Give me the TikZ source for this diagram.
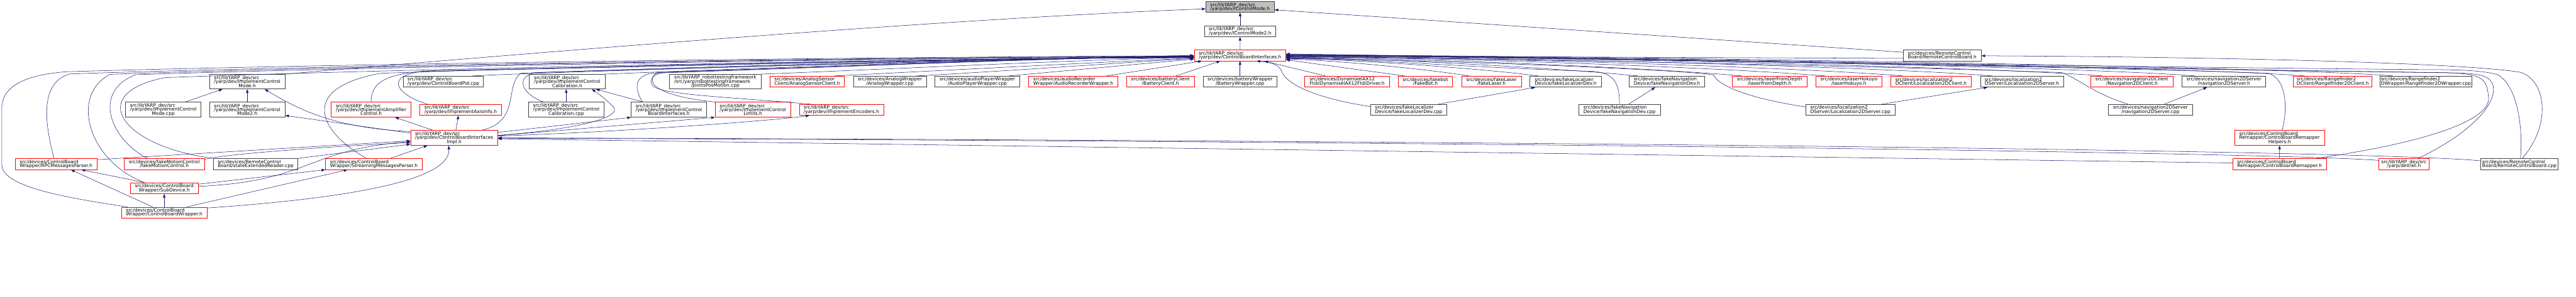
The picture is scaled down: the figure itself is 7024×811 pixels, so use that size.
\documentclass[tikz,border=0pt]{standalone}
\usepackage{fontspec}
\usetikzlibrary{arrows.meta}
\newfontfamily\doxfont{DejaVu Sans}
\newcommand{\doxsize}{\doxfont\fontsize{12.8pt}{11pt}\selectfont}
% label lines: the upper ones flush left, the last one centred
\newcommand{\twol}[2]{\vbox{\lineskiplimit=-\maxdimen\halign{##\hfil\cr#1\cr\omit\hfil#2\hfil\cr}}}
\newcommand{\threel}[3]{\vbox{\lineskiplimit=-\maxdimen\halign{##\hfil\cr#1\cr#2\cr\omit\hfil#3\hfil\cr}}}
\definecolor{edgeblue}{RGB}{25,25,112}
\definecolor{rootgray}{RGB}{191,191,191}
\definecolor{filegray}{RGB}{64,64,64}
\tikzset{
  file/.style={draw=filegray, line width=1.2pt, fill=white, inner sep=0pt,
               font=\doxsize},
  filered/.style={file, draw=red},
  fileroot/.style={file, fill=rootgray},
  dep/.style={draw=edgeblue, line width=0.9pt,
              -{Triangle[length=10pt,width=7pt]}},
}

\begin{document}
\begin{tikzpicture}[x=1pt,y=-1pt]
  \path[use as bounding box] (0,0) rectangle (7024,811);

  % the header and its two direct includers
  \node[fileroot, minimum width=187pt, minimum height=29pt] (icm) at (3381.3,19.2)
    {\twol{src/libYARP\_dev/src}{/yarp/dev/IControlMode.h}};
  \node[file, minimum width=195pt, minimum height=29.5pt] (icm2) at (3381.3,85.5)
    {\twol{src/libYARP\_dev/src}{/yarp/dev/IControlMode2.h}};
  \node[filered, minimum width=250pt, minimum height=29.5pt] (cbi) at (3381.2,151.4)
    {\twol{src/libYARP\_dev/src}{/yarp/dev/ControlBoardInterfaces.h}};
  \node[file, minimum width=212pt, minimum height=29.5pt] (rcbh) at (5295.9,151.4)
    {\twol{src/devices/RemoteControl}{Board/RemoteControlBoard.h}};

  % third row
  \node[file, minimum width=206pt, minimum height=40pt] (icmh) at (674.3,223)
    {\threel{src/libYARP\_dev/src}{/yarp/dev/ImplementControl}{Mode.h}};
  \node[file, minimum width=219pt, minimum height=30pt] (cbpid) at (1208.9,223)
    {\twol{src/libYARP\_dev/src}{/yarp/dev/ControlBoardPid.cpp}};
  \node[file, minimum width=206pt, minimum height=40pt] (iccalh) at (1546.6,223)
    {\threel{src/libYARP\_dev/src}{/yarp/dev/ImplementControl}{Calibration.h}};
  \node[file, minimum width=251pt, minimum height=40pt] (jpm) at (1950.5,223)
    {\threel{src/libYARP\_robottestingframework}{/src/yarp/robottestingframework}{/JointsPosMotion.cpp}};
  \node[filered, minimum width=203pt, minimum height=30pt] (asc) at (2201,223)
    {\twol{src/devices/AnalogSensor}{Client/AnalogSensorClient.h}};
  \node[file, minimum width=199pt, minimum height=30pt] (awr) at (2426.6,223)
    {\twol{src/devices/AnalogWrapper}{/AnalogWrapper.cpp}};
  \node[file, minimum width=232pt, minimum height=30pt] (apw) at (2665,223)
    {\twol{src/devices/audioPlayerWrapper}{/AudioPlayerWrapper.cpp}};
  \node[filered, minimum width=243pt, minimum height=30pt] (arw) at (2926.5,223)
    {\twol{src/devices/audioRecorder}{Wrapper/AudioRecorderWrapper.h}};
  \node[filered, minimum width=184.5pt, minimum height=30pt] (bcl) at (3164,223)
    {\twol{src/devices/batteryClient}{/BatteryClient.h}};
  \node[file, minimum width=202pt, minimum height=30pt] (bwr) at (3381.2,223)
    {\twol{src/devices/batteryWrapper}{/BatteryWrapper.cpp}};
  \node[filered, minimum width=231pt, minimum height=30pt] (dyn) at (3673.1,223)
    {\twol{src/devices/DynamixelAX12}{Ftdi/DynamixelAX12FtdiDriver.h}};
  \node[filered, minimum width=148pt, minimum height=30pt] (fbot) at (3886.6,223)
    {\twol{src/devices/fakebot}{/FakeBot.h}};
  \node[filered, minimum width=162.5pt, minimum height=30pt] (flas) at (4066.8,223)
    {\twol{src/devices/fakeLaser}{/fakeLaser.h}};
  \node[file, minimum width=195.5pt, minimum height=30pt] (flocH) at (4269.1,223)
    {\twol{src/devices/fakeLocalizer}{Device/fakeLocalizerDev.h}};
  \node[file, minimum width=207pt, minimum height=30pt] (fnavH) at (4545.1,223)
    {\twol{src/devices/fakeNavigation}{Device/fakeNavigationDev.h}};
  \node[filered, minimum width=203pt, minimum height=30pt] (lfd) at (4825.2,223)
    {\twol{src/devices/laserFromDepth}{/laserFromDepth.h}};
  \node[filered, minimum width=180pt, minimum height=30pt] (lhok) at (5041.3,223)
    {\twol{src/devices/laserHokuyo}{/laserHokuyo.h}};
  \node[filered, minimum width=220pt, minimum height=30pt] (l2dc) at (5265.3,223)
    {\twol{src/devices/localization2}{DClient/Localization2DClient.h}};
  \node[file, minimum width=226.5pt, minimum height=30pt] (l2dsH) at (5513.2,223)
    {\twol{src/devices/localization2}{DServer/Localization2DServer.h}};
  \node[filered, minimum width=224pt, minimum height=30pt] (n2dc) at (5813,223)
    {\twol{src/devices/navigation2DClient}{/Navigation2DClient.h}};
  \node[file, minimum width=228.5pt, minimum height=30pt] (n2dsH) at (6063.9,223)
    {\twol{src/devices/navigation2DServer}{/navigation2DServer.h}};
  \node[filered, minimum width=214pt, minimum height=30pt] (r2dc) at (6360.6,223)
    {\twol{src/devices/Rangefinder2}{DClient/Rangefinder2DClient.h}};
  \node[file, minimum width=250pt, minimum height=30pt] (r2dw) at (6614.8,223)
    {\twol{src/devices/Rangefinder2}{DWrapper/Rangefinder2DWrapper.cpp}};

  % fourth row
  \node[file, minimum width=205.5pt, minimum height=41pt] (icmcpp) at (445.3,299.5)
    {\threel{src/libYARP\_dev/src}{/yarp/dev/ImplementControl}{Mode.cpp}};
  \node[file, minimum width=206pt, minimum height=41pt] (icm2h) at (674.3,299.5)
    {\threel{src/libYARP\_dev/src}{/yarp/dev/ImplementControl}{Mode2.h}};
  \node[filered, minimum width=218pt, minimum height=41pt] (iamp) at (1011.9,299.5)
    {\threel{src/libYARP\_dev/src}{/yarp/dev/ImplementAmplifier}{Control.h}};
  \node[filered, minimum width=223pt, minimum height=30pt] (iaxis) at (1256,300)
    {\twol{src/libYARP\_dev/src}{/yarp/dev/ImplementAxisInfo.h}};
  \node[file, minimum width=206pt, minimum height=41pt] (iccalcpp) at (1543.9,299.5)
    {\threel{src/libYARP\_dev/src}{/yarp/dev/ImplementControl}{Calibration.cpp}};
  \node[file, minimum width=205.4pt, minimum height=41pt] (icbi) at (1823.7,299.5)
    {\threel{src/libYARP\_dev/src}{/yarp/dev/ImplementControl}{BoardInterfaces.h}};
  \node[filered, minimum width=206pt, minimum height=41pt] (iclim) at (2053,299.5)
    {\threel{src/libYARP\_dev/src}{/yarp/dev/ImplementControl}{Limits.h}};
  \node[filered, minimum width=230pt, minimum height=30pt] (ienc) at (2294.3,300)
    {\twol{src/libYARP\_dev/src}{/yarp/dev/ImplementEncoders.h}};
  \node[file, minimum width=209pt, minimum height=30pt] (flocC) at (3841,300)
    {\twol{src/devices/fakeLocalizer}{Device/fakeLocalizerDev.cpp}};
  \node[file, minimum width=223pt, minimum height=30pt] (fnavC) at (4415.9,300)
    {\twol{src/devices/fakeNavigation}{Device/fakeNavigationDev.cpp}};
  \node[file, minimum width=243.5pt, minimum height=30pt] (l2dsC) at (5045.3,300)
    {\twol{src/devices/localization2}{DServer/Localization2DServer.cpp}};
  \node[file, minimum width=229pt, minimum height=30pt] (n2dsC) at (5863.7,300)
    {\twol{src/devices/navigation2DServer}{/navigation2DServer.cpp}};

  % lower rows
  \node[filered, minimum width=237.5pt, minimum height=41pt] (cbii) at (1238.4,376.5)
    {\threel{src/libYARP\_dev/src}{/yarp/dev/ControlBoardInterfaces}{Impl.h}};
  \node[filered, minimum width=245.7pt, minimum height=41pt] (cbrh) at (6215.7,376.5)
    {\threel{src/devices/ControlBoard}{Remapper/ControlBoardRemapper}{Helpers.h}};
  \node[filered, minimum width=223pt, minimum height=30pt] (rpc) at (152.9,448)
    {\twol{src/devices/ControlBoard}{Wrapper/RPCMessagesParser.h}};
  \node[filered, minimum width=219pt, minimum height=30pt] (fmc) at (447.8,448)
    {\twol{src/devices/fakeMotionControl}{/fakeMotionControl.h}};
  \node[file, minimum width=230.4pt, minimum height=30pt] (ser) at (697.1,448)
    {\twol{src/devices/RemoteControl}{Board/stateExtendedReader.cpp}};
  \node[filered, minimum width=264.5pt, minimum height=30pt] (smp) at (1019.6,448)
    {\twol{src/devices/ControlBoard}{Wrapper/StreamingMessagesParser.h}};
  \node[filered, minimum width=256.4pt, minimum height=30pt] (cbr) at (6215.6,448)
    {\twol{src/devices/ControlBoard}{Remapper/ControlBoardRemapper.h}};
  \node[filered, minimum width=138pt, minimum height=30pt] (allh) at (6554.7,448)
    {\twol{src/libYARP\_dev/src}{/yarp/dev/all.h}};
  \node[file, minimum width=211pt, minimum height=30pt] (rcbc) at (6869.5,448)
    {\twol{src/devices/RemoteControl}{Board/RemoteControlBoard.cpp}};
  \node[filered, minimum width=184.5pt, minimum height=30pt] (subd) at (447.8,514)
    {\twol{src/devices/ControlBoard}{Wrapper/SubDevice.h}};
  \node[filered, minimum width=232.7pt, minimum height=29.5pt] (cbw) at (447.8,580.5)
    {\twol{src/devices/ControlBoard}{Wrapper/ControlBoardWrapper.h}};

  % chain up to the root
  \draw[dep] (icm2) -- (icm);
  \draw[dep] (cbi) -- (icm2);
  \draw[dep] ([yshift=8.7pt]rcbh.west) -- ([yshift=-7.6pt]icm.east);
  \draw[dep] (icmh.north east) .. controls (1500,140) and (2600,50) .. ([yshift=-5pt]icm.west);

  % long bundle from the left into ControlBoardInterfaces.h
  \draw[dep] ([xshift=-100pt]cbw.north) .. controls (180,540) and (5,510) .. (5,450)
    -- (5,295) .. controls (5,240) and (60,205) .. (180,196)
    .. controls (900,174) and (2400,155) .. ([yshift=-1pt]cbi.west);
  \draw[dep] ([xshift=-5.6pt]rpc.north) .. controls (120,330) and (110,225) .. (190,202)
    .. controls (800,180) and (2400,156) .. ([yshift=-2pt]cbi.west);
  \draw[dep] ([xshift=-54pt]subd.north) .. controls (240,440) and (190,260) .. (300,203)
    .. controls (900,181) and (2400,157) .. ([yshift=-3pt]cbi.west);
  \draw[dep] ([xshift=-46pt]fmc.north) .. controls (300,380) and (250,250) .. (370,204)
    .. controls (1000,183) and (2400,158) .. ([yshift=-4pt]cbi.west);
  \draw[dep] (ser.north west) .. controls (330,400) and (230,255) .. (450,212)
    .. controls (900,194) and (2400,160) .. ([yshift=-5pt]cbi.west);
  \draw[dep] ([xshift=-20.6pt]smp.north) .. controls (870,360) and (810,240) .. (1040,200)
    .. controls (1500,185) and (2400,160) .. ([yshift=-6pt]cbi.west);
  \draw[dep] (iamp.north) .. controls (1012,225) and (1050,200) .. (1180,193)
    .. controls (1800,180) and (2600,160) .. ([yshift=-6pt]cbi.west);
  \draw[dep] ([xshift=-90.5pt]iaxis.north) .. controls (1090,262) and (1040,210) .. (1150,195)
    .. controls (1800,182) and (2600,160) .. ([yshift=-5pt]cbi.west);
  \draw[dep] ([xshift=76.6pt]cbii.north) .. controls (1420,330) and (1375,235) .. (1420,200)
    .. controls (1900,182) and (2700,160) .. ([yshift=-4pt]cbi.west);
  \draw[dep] ([xshift=-62.4pt]iccalcpp.north) .. controls (1420,255) and (1405,210) .. (1460,198)
    .. controls (2000,183) and (2700,160) .. ([yshift=-3pt]cbi.west);
  \draw[dep] (iccalh.north east) .. controls (1900,192) and (2700,162) .. ([yshift=-2pt]cbi.west);
  \draw[dep] ([xshift=79pt]cbpid.north) .. controls (1500,196) and (2700,162) .. ([yshift=-3pt]cbi.west);
  \draw[dep] ([xshift=-72.2pt]icbi.north) .. controls (1735,250) and (1722,212) .. (1775,200)
    .. controls (2300,183) and (2800,160) .. ([yshift=-2pt]cbi.west);
  \draw[dep] (iclim.north west) .. controls (1790,262) and (1755,225) .. (1792,198)
    .. controls (2300,183) and (2800,160) .. ([yshift=-1pt]cbi.west);
  \draw[dep] ([xshift=-83.6pt]ienc.north) .. controls (1950,262) and (1780,258) .. (1776,228)
    .. controls (1773,206) and (1790,199) .. (1830,196)
    .. controls (2300,182) and (2800,160) .. (cbi.west);
  \draw[dep] (jpm.north east) .. controls (2400,190) and (2900,165) .. ([yshift=-5pt]cbi.west);
  \draw[dep] ([xshift=73pt]asc.north) .. controls (2500,196) and (3000,170) .. ([yshift=-7pt]cbi.west);
  \draw[dep] ([xshift=71.4pt]awr.north) .. controls (2700,197) and (3050,172) .. ([yshift=-8pt]cbi.west);
  \draw[dep] ([xshift=85.5pt]apw.north) -- ([yshift=-10pt]cbi.west);

  % short edges into the bottom of ControlBoardInterfaces.h
  \draw[dep] ([xshift=90.2pt]arw.north) -- ([xshift=-104pt]cbi.south);
  \draw[dep] ([xshift=42pt]bcl.north) -- ([xshift=-54pt]cbi.south);
  \draw[dep] (bwr) -- (cbi);
  \draw[dep] ([xshift=-59pt]dyn.north) -- ([xshift=66pt]cbi.south);
  \draw[dep] ([yshift=9pt]flocC.west) .. controls (3570,265) and (3505,225) .. (3495,195)
    .. controls (3488,176) and (3465,170) .. ([xshift=45pt]cbi.south);

  % bundle from the right
  \draw[dep] ([xshift=-56.6pt]fbot.north) -- ([yshift=-12pt]cbi.east);
  \draw[dep] ([xshift=-61pt]flas.north) .. controls (3900,190) and (3650,165) .. ([yshift=-10pt]cbi.east);
  \draw[dep] ([xshift=-75pt]flocH.north) .. controls (4050,188) and (3700,163) .. ([yshift=-8pt]cbi.east);
  \draw[dep] ([xshift=-79.4pt]fnavH.north) .. controls (4250,186) and (3800,161) .. ([yshift=-6pt]cbi.east);
  \draw[dep] (fnavC.north) .. controls (4416,228) and (4402,200) .. (4345,195)
    .. controls (4000,184) and (3700,160) .. ([yshift=-7pt]cbi.east);
  \draw[dep] ([yshift=8pt]l2dsC.west) .. controls (4790,272) and (4690,240) .. (4672,205)
    .. controls (4610,190) and (3800,160) .. ([yshift=-9pt]cbi.east);
  \draw[dep] ([xshift=-76pt]lfd.north) .. controls (4500,185) and (3900,160) .. ([yshift=-5pt]cbi.east);
  \draw[dep] ([xshift=-64.5pt]lhok.north) .. controls (4700,185) and (4000,158) .. ([yshift=-4pt]cbi.east);
  \draw[dep] ([xshift=-76.3pt]l2dc.north) .. controls (4900,184) and (4100,158) .. ([yshift=-3pt]cbi.east);
  \draw[dep] ([xshift=-80.8pt]l2dsH.north) .. controls (5150,184) and (4200,157) .. ([yshift=-2pt]cbi.east);
  \draw[dep] ([xshift=-80.2pt]n2dc.north) .. controls (5450,184) and (4300,156) .. ([yshift=-1pt]cbi.east);
  \draw[dep] ([xshift=-62pt]n2dsC.north) .. controls (5700,252) and (5665,212) .. (5620,198)
    .. controls (5100,180) and (4000,158) .. ([yshift=-3pt]cbi.east);
  \draw[dep] ([xshift=-78.3pt]n2dsH.north) .. controls (5700,184) and (4400,156) .. (cbi.east);
  \draw[dep] ([xshift=-76.6pt]r2dc.north) .. controls (6000,184) and (4500,155) .. ([yshift=1pt]cbi.east);
  \draw[dep] ([xshift=-89.4pt]r2dw.north) .. controls (6250,184) and (4600,155) .. ([yshift=2pt]cbi.east);
  \draw[dep] ([yshift=-8pt]rcbh.west) -- ([yshift=-1pt]cbi.east);
  \draw[dep] ([xshift=7pt]cbrh.north) .. controls (6238,300) and (6236,215) .. (6185,200)
    .. controls (5800,185) and (4300,158) .. ([yshift=1pt]cbi.east);
  \draw[dep] ([xshift=99pt]cbr.north) .. controls (6600,392) and (6800,330) .. (6785,262)
    .. controls (6780,210) and (6765,199) .. (6640,198)
    .. controls (5500,182) and (4300,158) .. ([yshift=2pt]cbi.east);
  \draw[dep] ([xshift=39pt]allh.north) .. controls (6745,360) and (6808,280) .. (6798,235)
    .. controls (6790,207) and (6768,200) .. (6680,199)
    .. controls (5500,183) and (4300,158) .. ([yshift=3pt]cbi.east);
  \draw[dep] ([xshift=3pt]rcbc.north) .. controls (6880,340) and (6862,232) .. (6810,204)
    .. controls (6770,192) and (6700,190) .. (6600,190)
    .. controls (5500,180) and (4300,158) .. ([yshift=4pt]cbi.east);
  \draw[dep] ([xshift=8pt]rcbc.north) .. controls (6965,330) and (6935,212) .. (6870,197)
    .. controls (6700,170) and (6000,155) .. ([yshift=-1pt]rcbh.east);

  % sources and their headers on the right
  \draw[dep] ([xshift=81pt]flocC.north) -- ([xshift=-83pt]flocH.south);
  \draw[dep] ([xshift=25pt]fnavC.north) -- ([xshift=-32pt]fnavH.south);
  \draw[dep] ([xshift=86.5pt]l2dsC.north) -- ([xshift=-94pt]l2dsH.south);
  \draw[dep] ([xshift=37.7pt]n2dsC.north) -- ([xshift=-46pt]n2dsH.south);
  \draw[dep] (cbr) -- (cbrh);

  % long edges into ControlBoardInterfacesImpl.h
  \draw[dep] ([yshift=3pt]cbr.west) -- ([yshift=-2.5pt]cbii.east);
  \draw[dep] ([yshift=10pt]allh.west) .. controls (6250,418) and (4000,385) .. ([yshift=-1pt]cbii.east);
  \draw[dep] ([yshift=9pt]rcbc.west) .. controls (6450,410) and (4000,383) .. (cbii.east);

  % ControlBoardInterfacesImpl.h and the Implement* headers
  \draw[dep] ([yshift=-3.7pt]cbii.north west) .. controls (900,350) and (800,290) .. ([xshift=47.3pt]icmh.south);
  \draw[dep] ([yshift=13pt]cbii.west) -- ([yshift=-16pt]icm2h.east);
  \draw[dep] (icm2h) -- (icmh);
  \draw[dep] ([xshift=59.7pt]icmcpp.north) -- ([xshift=-67.5pt]icmh.south);
  \draw[dep] ([xshift=-58.4pt]cbii.north) -- ([xshift=65.6pt]iamp.south);
  \draw[dep] ([xshift=4.6pt]cbii.north) -- ([xshift=-6pt]iaxis.south);
  \draw[dep] ([yshift=7pt]cbii.east) .. controls (1560,355) and (1720,320) .. (1665,285)
    .. controls (1650,270) and (1635,258) .. ([xshift=67pt]iccalh.south);
  \draw[dep] ([yshift=14.9pt]cbii.east) -- (icbi.south west);
  \draw[dep] ([yshift=6pt]cbii.east) -- (iclim.south west);
  \draw[dep] ([yshift=5pt]cbii.east) .. controls (1700,360) and (2100,330) .. ([xshift=-87.3pt]ienc.south);
  \draw[dep] (iccalcpp.north) -- (iccalcpp.north |- iccalh.south);
  \draw[dep] ([xshift=-71pt]icbi.north) -- ([xshift=78.4pt]iccalh.south);

  % the wrapper files at the lower left
  \draw[dep] ([yshift=12pt]rpc.east) -- ([yshift=-8pt]cbii.west);
  \draw[dep] ([yshift=13pt]fmc.east) .. controls (620,420) and (900,400) .. ([yshift=-13pt]cbii.west);
  \draw[dep] (ser.north east) -- ([yshift=-17.5pt]cbii.west);
  \draw[dep] ([yshift=5pt]subd.east) .. controls (850,495) and (830,410) .. ([yshift=-10pt]cbii.west);
  \draw[dep] ([yshift=11pt]subd.east) -- (smp.south west);
  \draw[dep] ([xshift=-54pt]subd.north) -- ([xshift=69pt]rpc.south);
  \draw[dep] ([xshift=-31.4pt]cbw.north) -- ([xshift=40.4pt]rpc.south);
  \draw[dep] (cbw) -- (subd);
  \draw[dep] ([xshift=61.2pt]cbw.north) -- ([xshift=-72.2pt]smp.south);
  \draw[dep] ([yshift=12.5pt]cbw.east) .. controls (900,545) and (1230,500) .. ([xshift=-15pt]cbii.south);
  \draw[dep] ([xshift=44.4pt]smp.north) -- ([xshift=-73pt]cbii.south);
\end{tikzpicture}
\end{document}
